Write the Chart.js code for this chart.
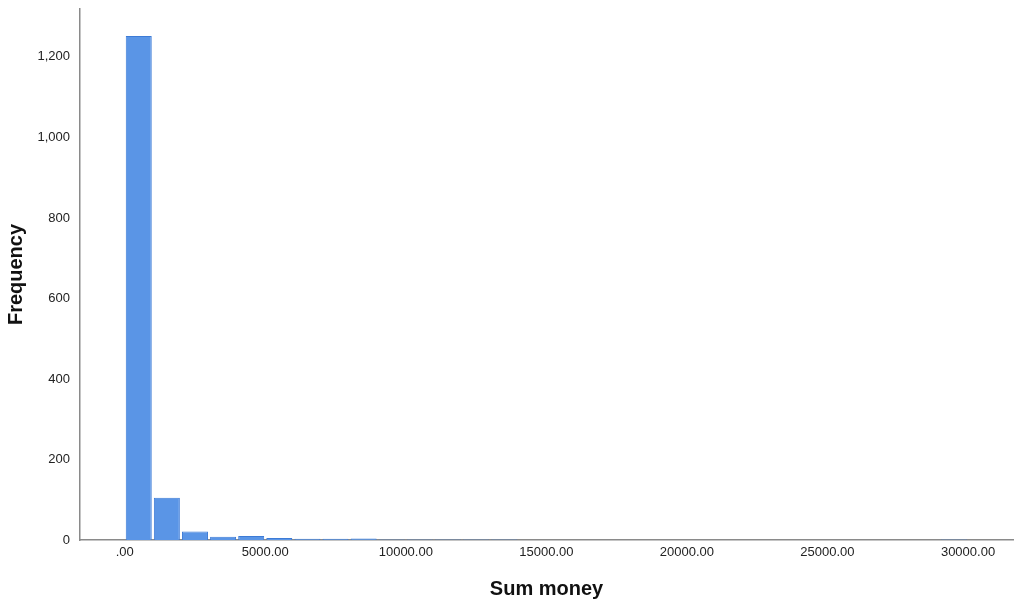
<!DOCTYPE html>
<html>
<head>
<meta charset="utf-8">
<script src="https://cdn.jsdelivr.net/npm/chart.js@4/dist/chart.umd.min.js"></script>
<style>
  html, body { margin: 0; padding: 0; background: #ffffff; }
  .wrap { position: relative; width: 1021px; height: 611px; }
</style>
</head>
<body>
<div class="wrap"><canvas id="c"></canvas></div>
<script>
// histogram bins of 1000, centres at 500, 1500, ...
const binCentres = [500, 1500, 2500, 3500, 4500, 5500, 6500, 7500, 8500, 9500, 10500, 11500, 12500, 13500, 29500];
const frequencies = [1252, 105, 21, 8, 10, 5, 3, 3, 4, 1, 1, 1, 1, 1, 1];
const xTicks = [0, 5000, 10000, 15000, 20000, 25000, 30000];
const yTicks = [0, 200, 400, 600, 800, 1000, 1200];

const points = binCentres.map((x, i) => ({ x: x, y: frequencies[i] }));

const tickFont = { family: "'Liberation Sans', Arial, sans-serif", size: 13 };
const titleFont = { family: "'Liberation Sans', Arial, sans-serif", size: 20, weight: 'bold' };

new Chart(document.getElementById('c').getContext('2d'), {
    type: 'bar',
    data: {
        datasets: [{
            label: 'Frequency',
            data: points,
            backgroundColor: '#5a95e6',
            borderColor: '#3d7bd6',
            borderWidth: 1,
            barPercentage: 0.925,
            categoryPercentage: 1.0
        }]
    },
    options: {
        responsive: true,
        maintainAspectRatio: false,
        animation: false,
        layout: { padding: { top: 9, right: 8, left: 0, bottom: 0 } },
        plugins: {
            legend: { display: false },
            tooltip: { enabled: false }
        },
        scales: {
            x: {
                type: 'linear',
                offset: false,
                min: -1590,
                max: 31600,
                grid: { display: false, drawTicks: false },
                border: { display: true, color: '#8a8a8a', width: 1.5 },
                afterBuildTicks: (s) => { s.ticks = xTicks.map(v => ({ value: v })); },
                afterFit: (s) => { s.height = 71; s.paddingLeft = 0; s.paddingRight = 0; },
                ticks: {
                    padding: 5,
                    color: '#222',
                    font: tickFont,
                    maxRotation: 0,
                    callback: (v) => v === 0 ? '.00' : v.toFixed(2)
                },
                title: {
                    display: true,
                    text: 'Sum money',
                    color: '#111',
                    font: titleFont,
                    padding: { top: 0, bottom: 10 }
                }
            },
            y: {
                min: 0,
                max: 1319,
                grid: { display: false, drawTicks: false },
                border: { display: true, color: '#8a8a8a', width: 1.5 },
                afterBuildTicks: (s) => { s.ticks = yTicks.map(v => ({ value: v })); },
                afterFit: (s) => { s.width = 80; s.paddingTop = 0; s.paddingBottom = 0; },
                ticks: {
                    padding: 10,
                    color: '#222',
                    font: tickFont,
                    callback: (v) => v.toLocaleString('en-US')
                },
                title: {
                    display: true,
                    text: 'Frequency',
                    color: '#111',
                    font: titleFont,
                    padding: { top: 4, bottom: 0 }
                }
            }
        }
    }
});
</script>
</body>
</html>
